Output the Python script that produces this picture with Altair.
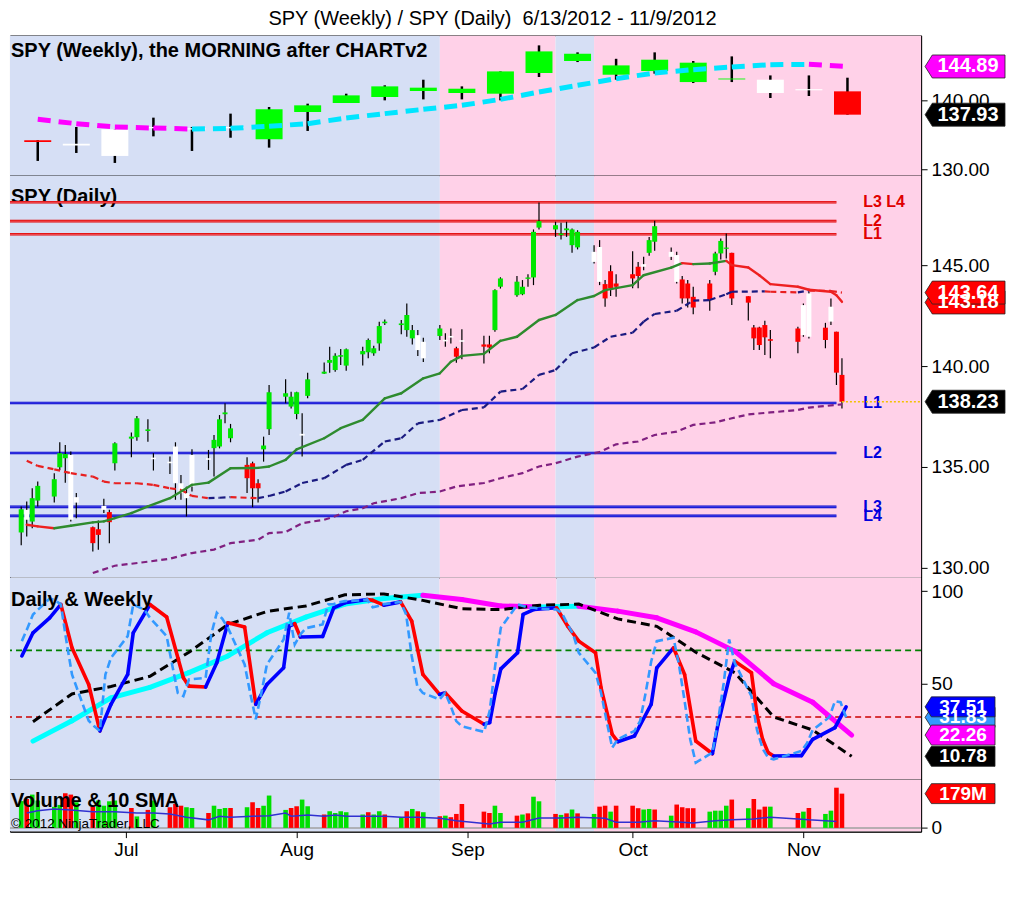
import altair as alt
import pandas as pd

FONT = "Liberation Sans"
BASE = pd.Timestamp("2012-06-12")


def day(s):
    return (pd.Timestamp(s) - BASE).days


def days(seq):
    return [day(s) for s in seq]


# ------------------------------------------------------------------ data
daily_dates = [
    "2012-06-12", "2012-06-13", "2012-06-14", "2012-06-15",
    "2012-06-18", "2012-06-19", "2012-06-20", "2012-06-21", "2012-06-22",
    "2012-06-25", "2012-06-26", "2012-06-27", "2012-06-28", "2012-06-29",
    "2012-07-02", "2012-07-03", "2012-07-05", "2012-07-06",
    "2012-07-09", "2012-07-10", "2012-07-11", "2012-07-12", "2012-07-13",
    "2012-07-16", "2012-07-17", "2012-07-18", "2012-07-19", "2012-07-20",
    "2012-07-23", "2012-07-24", "2012-07-25", "2012-07-26", "2012-07-27",
    "2012-07-30", "2012-07-31",
    "2012-08-01", "2012-08-02", "2012-08-03",
    "2012-08-06", "2012-08-07", "2012-08-08", "2012-08-09", "2012-08-10",
    "2012-08-13", "2012-08-14", "2012-08-15", "2012-08-16", "2012-08-17",
    "2012-08-20", "2012-08-21", "2012-08-22", "2012-08-23", "2012-08-24",
    "2012-08-27", "2012-08-28", "2012-08-29", "2012-08-30", "2012-08-31",
    "2012-09-04", "2012-09-05", "2012-09-06", "2012-09-07",
    "2012-09-10", "2012-09-11", "2012-09-12", "2012-09-13", "2012-09-14",
    "2012-09-17", "2012-09-18", "2012-09-19", "2012-09-20", "2012-09-21",
    "2012-09-24", "2012-09-25", "2012-09-26", "2012-09-27", "2012-09-28",
    "2012-10-01", "2012-10-02", "2012-10-03", "2012-10-04", "2012-10-05",
    "2012-10-08", "2012-10-09", "2012-10-10", "2012-10-11", "2012-10-12",
    "2012-10-15", "2012-10-16", "2012-10-17", "2012-10-18", "2012-10-19",
    "2012-10-22", "2012-10-23", "2012-10-24", "2012-10-25", "2012-10-26",
    "2012-10-31", "2012-11-01", "2012-11-02",
    "2012-11-05", "2012-11-06", "2012-11-07", "2012-11-08",
]
daily_kind = (
    "G W G G G G G W W R R W R G "
    "G G G W W W W W W W G G G G R R R G G G G "
    "G W G G G G G G G G G G G G G G W W G W W R W "
    "R R G G G G G G G G G G G G W W R R R "
    "R R W G G W W R R R R G G G R R R R R R R "
    "W W R W R R"
).split()
daily_top = [
    132.90, 132.87, 133.45, 134.06, 134.39, 135.68, 135.64, 135.59, 133.50, 132.01, 131.91, 133.07, 132.76, 136.17,
    136.50, 137.41, 136.86, 135.46, 135.26, 136.01, 134.19, 133.70, 135.59, 135.43, 136.34, 137.36, 137.70, 136.91,
    135.10, 135.18, 134.19, 136.06, 138.70, 138.65, 138.48,
    138.70, 136.64, 139.34, 139.72, 140.30, 140.51, 140.54, 140.83, 140.74, 141.29, 140.88, 141.98, 142.20, 142.11,
    142.53, 141.78, 141.53, 141.20, 141.86, 141.30, 141.49, 140.88, 141.28,
    141.07, 141.07, 143.76, 144.34, 144.18, 143.93, 144.39, 146.65, 147.18, 146.98, 146.57, 146.82, 146.77, 146.65,
    145.66, 145.90, 144.06, 144.70, 144.09,
    144.55, 144.92, 145.05, 146.24, 146.93, 145.66, 145.50, 144.29, 144.09, 143.43, 144.09, 145.58, 146.20, 145.87,
    145.61, 143.46, 141.91, 141.91, 142.03, 141.33, 141.86,
    143.02, 143.60, 141.90, 142.94, 141.70, 139.56,
]
daily_bottom = [
    131.75, 132.38, 132.29, 133.33, 133.53, 134.98, 135.43, 132.38, 133.23, 131.22, 131.63, 132.87, 132.26, 135.18,
    136.40, 136.47, 136.78, 135.38, 135.18, 134.19, 133.70, 133.45, 134.03, 135.35, 135.93, 136.01, 137.61, 136.42,
    134.44, 133.94, 133.94, 135.87, 136.87, 138.48, 137.99,
    137.62, 136.55, 138.52, 139.62, 140.16, 139.80, 140.46, 140.02, 140.58, 140.68, 140.63, 141.12, 142.12, 142.03,
    141.78, 141.37, 140.79, 140.38, 141.49, 141.22, 141.41, 140.46, 141.20,
    140.96, 140.92, 141.78, 143.93, 143.51, 143.56, 144.32, 144.39, 146.86, 146.77, 146.49, 146.73, 145.99, 145.88,
    145.16, 144.17, 143.35, 143.85, 143.93,
    144.34, 144.46, 144.92, 145.61, 146.16, 145.41, 144.17, 143.35, 143.35, 142.90, 143.27, 144.67, 145.58, 145.81,
    143.35, 143.14, 141.37, 141.04, 141.42, 141.25, 141.20,
    141.53, 141.45, 141.29, 142.20, 139.67, 138.23,
]
daily_high = [
    133.04, 133.28, 133.94, 134.27, 134.69, 136.22, 136.09, 135.76, 133.70, 132.05, 132.34, 133.42, 132.87, 136.22,
    136.70, 137.52, 137.36, 135.68, 135.51, 136.22, 134.60, 134.02, 135.87, 135.84, 136.58, 137.57, 138.15, 137.13,
    135.48, 135.26, 134.39, 136.50, 139.06, 139.34, 138.73,
    138.73, 137.66, 139.67, 140.17, 140.96, 140.63, 140.84, 140.87, 140.96, 141.37, 141.01, 142.19, 142.31, 142.28,
    143.10, 142.03, 141.78, 141.40, 142.03, 141.62, 141.86, 140.96, 141.82,
    141.50, 141.50, 143.81, 144.40, 144.46, 144.26, 144.55, 146.77, 148.10, 147.15, 147.10, 147.15, 146.82, 146.73,
    145.99, 146.24, 144.26, 145.00, 144.55,
    145.69, 145.16, 145.41, 146.40, 147.20, 145.87, 145.66, 144.46, 144.26, 143.93, 144.26, 145.66, 146.32, 146.57,
    145.61, 143.46, 142.03, 141.95, 142.24, 141.78, 141.95,
    143.10, 143.68, 142.14, 143.35, 141.70, 140.38,
]
daily_low = [
    131.11, 131.55, 131.96, 133.04, 133.24, 134.85, 134.22, 132.29, 132.46, 130.81, 130.89, 132.71, 131.22, 134.82,
    135.48, 136.30, 136.25, 134.82, 134.65, 133.37, 133.37, 132.54, 133.78, 134.85, 134.52, 135.92, 137.16, 136.22,
    133.70, 133.00, 133.24, 135.26, 136.58, 138.15, 137.90,
    137.36, 135.51, 138.40, 139.60, 139.67, 139.72, 140.05, 139.77, 140.02, 140.38, 140.51, 140.76, 142.03, 141.58,
    141.45, 141.07, 140.50, 140.20, 141.29, 140.96, 141.12, 140.16, 140.33,
    140.13, 140.63, 141.70, 143.84, 143.43, 143.51, 143.93, 144.01, 146.77, 146.40, 146.27, 146.40, 145.61, 145.78,
    145.08, 144.01, 142.94, 143.47, 143.43,
    143.85, 143.85, 144.75, 145.46, 145.71, 145.25, 144.09, 143.10, 142.90, 142.57, 142.74, 144.50, 145.28, 145.33,
    143.02, 142.25, 140.80, 140.79, 140.54, 140.38, 140.63,
    141.45, 141.37, 140.88, 142.03, 139.06, 137.90,
]
daily_volume_m = [
    140, 151, 174, 143, 110, 120, 181, 174, 134, 110, 143, 116, 139, 143,
    104, 60, 94, 143, 108, 125, 116, 108, 104, 78, 116, 99, 104, 104, 108, 134, 104, 116, 169, 94, 104,
    113, 148, 113, 70, 87, 78, 87, 82, 70, 82, 70, 87, 70, 56, 87, 99, 87, 82, 61, 64, 56, 73, 125,
    85, 78, 116, 78, 64, 70, 76, 163, 139, 73, 68, 76, 96, 76, 73, 111, 116, 85, 116,
    116, 103, 96, 99, 96, 64, 122, 108, 103, 103, 85, 90, 90, 116, 148, 103, 151, 96, 111, 111, 78,
    85, 104, 73, 90, 210, 179,
]
volume_kind = (
    "G R G G G G R R G R G G G G "
    "R G R G R R R G G R G G G R G R R G G G R "
    "R G G R G G G G G R G G R G R G R G R G R R R "
    "R R G G R G R G G R G R G R G R R G R "
    "R R G G R G R R R R G G G G R G R R R G R "
    "G R G G R R"
).split()

# weekly candles (bars stamped on Fridays)
weekly_dates = [
    "2012-06-15", "2012-06-22", "2012-06-29", "2012-07-06", "2012-07-13", "2012-07-20",
    "2012-07-27", "2012-08-03", "2012-08-10", "2012-08-17", "2012-08-24", "2012-08-31",
    "2012-09-07", "2012-09-14", "2012-09-21", "2012-09-28", "2012-10-05", "2012-10-12",
    "2012-10-19", "2012-10-26", "2012-11-02", "2012-11-09",
]
weekly_kind = "R W W W W W G G G G G G G G G G G G G W W R".split()
weekly_top = [134.22, 133.72, 135.82, 136.16, 135.98, 136.16, 138.70, 139.28, 140.72, 142.02, 141.83,
              141.68, 144.18, 147.07, 146.73, 145.05, 145.87, 145.44, 143.15, 142.98, 141.62, 141.30]
weekly_bottom = [133.98, 133.48, 131.97, 135.96, 135.78, 135.96, 134.37, 138.32, 139.62, 140.48, 141.35,
                 141.06, 140.96, 143.95, 145.68, 143.70, 144.23, 142.64, 143.02, 141.06, 141.45, 137.93]
weekly_high = [134.25, 136.15, 135.82, 137.50, 136.15, 138.08, 139.04, 139.52, 140.96, 142.17, 142.98,
               142.02, 144.18, 147.94, 146.93, 146.00, 146.93, 145.68, 146.35, 143.60, 143.60, 143.27]
weekly_low = [131.25, 132.40, 130.96, 134.80, 132.69, 134.60, 133.17, 135.58, 139.62, 140.00, 140.14,
              140.14, 140.00, 143.37, 145.53, 142.98, 143.85, 142.50, 142.64, 140.34, 140.63, 137.93]
weekly_ma = [137.26, 136.63, 136.15, 136.00, 135.86, 135.96, 136.25, 136.63, 137.45, 138.08, 138.70,
             139.28, 140.14, 141.20, 142.17, 143.13, 143.95, 144.43, 144.81, 145.15, 145.20, 144.89]

# daily moving averages
fast_ma_dates = [
    "2012-06-13", "2012-06-15", "2012-06-18", "2012-06-21", "2012-06-25", "2012-06-27", "2012-06-29",
    "2012-07-02", "2012-07-05", "2012-07-09", "2012-07-12", "2012-07-13", "2012-07-16", "2012-07-20",
    "2012-07-25", "2012-07-27", "2012-07-30", "2012-08-01", "2012-08-06", "2012-08-09", "2012-08-13",
    "2012-08-17", "2012-08-20", "2012-08-24", "2012-08-27", "2012-08-29", "2012-08-31", "2012-09-04",
    "2012-09-07", "2012-09-10", "2012-09-14", "2012-09-17", "2012-09-21", "2012-09-24", "2012-09-26",
    "2012-10-01", "2012-10-03", "2012-10-08", "2012-10-10", "2012-10-12", "2012-10-15", "2012-10-18",
    "2012-10-19", "2012-10-22", "2012-10-24", "2012-10-26", "2012-10-31", "2012-11-02", "2012-11-06",
    "2012-11-07", "2012-11-08",
]
fast_ma_values = [
    132.13, 132.05, 131.96, 132.08, 132.25, 132.30, 132.46, 132.71, 133.04, 133.45, 133.94, 134.11, 134.22,
    134.93, 134.95, 135.02, 135.35, 135.87, 136.42, 136.92, 137.33, 138.40, 138.65, 139.39, 139.64, 140.21,
    140.50, 140.60, 141.25, 141.45, 142.28, 142.53, 143.27, 143.47, 143.76, 144.01, 144.50, 144.88, 145.10,
    145.05, 145.08, 145.21, 145.00, 144.88, 144.50, 144.06, 143.93, 143.78, 143.68, 143.51, 143.18,
]
mid_ma_dates = [
    "2012-06-13", "2012-06-15", "2012-06-18", "2012-06-21", "2012-06-25", "2012-06-27", "2012-06-29",
    "2012-07-03", "2012-07-06", "2012-07-09", "2012-07-11", "2012-07-13", "2012-07-16", "2012-07-18",
    "2012-07-20", "2012-07-25", "2012-07-27", "2012-07-30", "2012-08-02", "2012-08-06", "2012-08-10",
    "2012-08-13", "2012-08-17", "2012-08-20", "2012-08-23", "2012-08-27", "2012-08-31", "2012-09-04",
    "2012-09-07", "2012-09-11", "2012-09-14", "2012-09-17", "2012-09-20", "2012-09-24", "2012-09-27",
    "2012-10-01", "2012-10-03", "2012-10-05", "2012-10-09", "2012-10-12", "2012-10-15", "2012-10-18",
    "2012-10-19", "2012-10-25", "2012-10-26", "2012-10-31", "2012-11-02", "2012-11-06", "2012-11-08",
]
mid_ma_values = [
    135.30, 135.05, 134.88, 134.69, 134.52, 134.27, 134.19, 134.19, 134.11, 133.94, 133.86, 133.56, 133.45,
    133.47, 133.50, 133.45, 133.56, 133.78, 134.20, 134.44, 135.10, 135.35, 136.26, 136.42, 137.16, 137.33,
    137.82, 137.95, 138.73, 138.86, 139.56, 139.80, 140.63, 140.92, 141.45, 141.65, 142.20, 142.58, 142.74,
    143.24, 143.27, 143.56, 143.68, 143.70, 143.68, 143.65, 143.74, 143.72, 143.64,
]
slow_ma_dates = [
    "2012-06-25", "2012-06-29", "2012-07-05", "2012-07-09", "2012-07-13", "2012-07-17", "2012-07-20",
    "2012-07-25", "2012-07-27", "2012-07-30", "2012-08-02", "2012-08-06", "2012-08-08", "2012-08-10",
    "2012-08-13", "2012-08-15", "2012-08-20", "2012-08-23", "2012-08-27", "2012-08-30", "2012-09-04",
    "2012-09-07", "2012-09-11", "2012-09-14", "2012-09-17", "2012-09-21", "2012-09-25", "2012-09-28",
    "2012-10-02", "2012-10-05", "2012-10-09", "2012-10-12", "2012-10-16", "2012-10-19", "2012-10-22",
    "2012-10-26", "2012-10-31", "2012-11-02", "2012-11-08",
]
slow_ma_values = [
    129.74, 130.10, 130.30, 130.45, 130.73, 130.90, 131.22, 131.39, 131.72, 131.77, 132.21, 132.38, 132.55,
    132.80, 132.95, 133.20, 133.45, 133.70, 133.78, 134.03, 134.20, 134.44, 134.69, 135.02, 135.18, 135.51,
    135.73, 136.12, 136.26, 136.58, 136.75, 137.08, 137.21, 137.41, 137.60, 137.70, 137.82, 137.94, 138.10,
]

# support / resistance levels
level_values = [148.12, 147.18, 146.53, 138.17, 135.69, 133.02, 132.57]
level_names = ["L3 L4", "L2", "L1", "L1", "L2", "L3", "L4"]
level_side = ["res", "res", "res", "sup", "sup", "sup", "sup"]
level_first_date = "2012-06-01"
level_last_date = "2012-11-07"
last_close = 138.23
last_close_date = "2012-11-08"

# stochastics
k_dates = [
    "2012-06-13", "2012-06-15", "2012-06-18", "2012-06-20", "2012-06-22", "2012-06-25", "2012-06-27",
    "2012-06-29", "2012-07-02", "2012-07-03", "2012-07-06", "2012-07-09", "2012-07-12", "2012-07-13",
    "2012-07-16", "2012-07-18", "2012-07-20", "2012-07-23", "2012-07-25", "2012-07-27", "2012-07-30",
    "2012-07-31", "2012-08-01", "2012-08-02", "2012-08-06", "2012-08-08", "2012-08-10", "2012-08-14",
    "2012-08-15", "2012-08-17", "2012-08-20", "2012-08-22", "2012-08-24", "2012-08-27", "2012-08-28",
    "2012-08-31", "2012-09-04", "2012-09-05", "2012-09-06", "2012-09-07", "2012-09-10", "2012-09-11",
    "2012-09-13", "2012-09-17", "2012-09-19", "2012-09-21", "2012-09-24", "2012-09-25", "2012-09-27",
    "2012-09-28", "2012-10-01", "2012-10-04", "2012-10-05", "2012-10-08", "2012-10-10", "2012-10-12",
    "2012-10-15", "2012-10-16", "2012-10-18", "2012-10-19", "2012-10-22", "2012-10-23", "2012-10-24",
    "2012-10-25", "2012-10-26", "2012-10-31", "2012-11-02", "2012-11-06", "2012-11-08",
]
k_values = [
    65, 77.5, 85.6, 92.8, 69.4, 49.6, 24.5, 38.9, 55, 77.5, 92.8, 86, 53.2, 48.7, 48.2, 61.3, 82.9, 80.6,
    38.9, 49.6, 58.6, 81.1, 82.4, 75.2, 75.5, 91, 93.7, 95.5, 95, 92.4, 94.2, 83.8, 55, 44.2, 45.1, 35.3,
    28.1, 29, 45, 58, 66.7, 87.4, 90.1, 91, 81.1, 73, 66.7, 47.8, 22.7, 18.7, 21.8, 38.9, 58.6, 69.4, 55,
    19.1, 12.2, 28.1, 53.2, 62.2, 55.9, 33, 20, 12.8, 11, 11.2, 20, 26.3, 37.51,
]
fast_k_values = [  # one value per daily bar from 2012-06-13
    73, 80, 87.4, 96, 95, 92.8, 73, 55, 30, 27, 24.5, 55, 64,
    75.7, 92.8, 90, 85.6, 75.7, 60, 45, 43.3, 52.3, 53.2, 76.6, 88.3, 85, 80.2, 60.4, 45, 30.8, 45, 60.4,
    73.9, 88.3,
    71.2, 76.6, 80, 82, 92.8, 93, 94, 94.6, 95, 95.5, 91.3, 92, 93, 94.2, 87.4, 65, 48.7, 45, 41.5, 45.1,
    38, 29.8, 27,
    24, 35.3, 60, 80.2, 92.8, 92, 91, 91, 90.5, 90.1, 88, 82, 76.6, 66.7, 55.9, 45, 29.8, 15.5, 20,
    24.5, 29.8, 45, 62, 73, 74.8, 60, 40.6, 20, 7.4, 12.8, 30, 50, 73.9, 61.3, 43.3, 25, 15, 10, 9.2, 13.7,
    18, 25, 32, 40.6, 40, 31.83,
]
weekly_k_values = [19, 30, 42.4, 48, 56, 65, 77.5, 86, 93, 96, 97.8, 95.5, 92, 91.5, 91.8, 89.2, 85.6,
                   78, 67.6, 50, 40, 22.26]
weekly_d_values = [29.5, 44.5, 48.5, 54, 67, 82, 89, 92, 98, 98.5, 95, 90.5, 90, 92.4, 93, 85, 81, 67,
                   56, 32, 25, 10.78]
stoch_levels = [68, 32]
stoch_level_kind = ["upper", "lower"]

# volume moving average (as drawn)
vol_ma_dates = [
    "2012-06-13", "2012-06-15", "2012-06-18", "2012-06-21", "2012-06-25", "2012-06-27", "2012-06-29",
    "2012-07-03", "2012-07-06", "2012-07-09", "2012-07-12", "2012-07-16", "2012-07-18", "2012-07-20",
    "2012-07-24", "2012-07-27", "2012-07-30", "2012-07-31", "2012-08-03", "2012-08-06", "2012-08-08",
    "2012-08-10", "2012-08-14", "2012-08-17", "2012-08-20", "2012-08-23", "2012-08-27", "2012-08-30",
    "2012-09-05", "2012-09-07", "2012-09-11", "2012-09-14", "2012-09-18", "2012-09-21", "2012-09-26",
    "2012-09-28", "2012-10-02", "2012-10-05", "2012-10-10", "2012-10-12", "2012-10-16", "2012-10-19",
    "2012-10-23", "2012-10-26", "2012-10-31", "2012-11-02", "2012-11-05", "2012-11-07",
]
vol_ma_values = [
    78, 90, 99, 94, 85, 85, 85, 78, 78, 73, 56, 42, 61, 56, 61, 64, 78, 61, 68, 61, 68, 61, 61, 61, 56, 56,
    50, 38, 21, 30, 30, 52, 52, 56, 50, 30, 30, 38, 30, 26, 38, 43, 47, 56, 47, 42, 38, 33,
]

# background regime shading
shade_start = ["2012-06-01", "2012-08-27", "2012-09-17", "2012-09-24"]
shade_end = ["2012-08-27", "2012-09-17", "2012-09-24", "2012-12-01"]
shade_kind = ["blue", "pink", "blue", "pink"]

month_starts = ["2012-07-01", "2012-08-01", "2012-09-01", "2012-10-01", "2012-11-01"]
month_names = ["Jul", "Aug", "Sep", "Oct", "Nov"]

# last-value tags
tag1_values, tag1_text, tag1_kind = [144.89, 137.93], ["144.89", "137.93"], ["magenta", "black"]
tag2_values, tag2_text, tag2_kind = [143.15, 143.64, 138.23], ["143.18", "143.64", "138.23"], ["red", "red", "black"]
tag3_values = [31.83, 37.51, 22.26, 10.78]
tag3_text = ["31.83", "37.51", "22.26", "10.78"]
tag3_kind = ["lightblue", "blue", "magenta", "black"]
tag4_values, tag4_text, tag4_kind = [179], ["179M"], ["red"]

n = len(daily_dates)
for arr in (daily_kind, daily_top, daily_bottom, daily_high, daily_low, daily_volume_m, volume_kind):
    assert len(arr) == n, (len(arr), n)
assert len(fast_k_values) == n - 1
assert len(fast_ma_dates) == len(fast_ma_values)
assert len(mid_ma_dates) == len(mid_ma_values)
assert len(slow_ma_dates) == len(slow_ma_values)
assert len(k_dates) == len(k_values)
assert len(vol_ma_dates) == len(vol_ma_values)

# ------------------------------------------------------------------ layout / style
W = 912
H1, H2, H3, H4 = 140, 403, 202, 52
xscale = alt.Scale(domain=[-1.13, 162.46], nice=False, zero=False)
BLUE_BG, PINK_BG = "#D6DFF5", "#FFD1E8"
TAG_DOM = ["black", "red", "magenta", "blue", "lightblue"]
TAG_RNG = ["#000000", "#FF0000", "#FF00FF", "#0000FF", "#3399FF"]


def yaxis(values, fmt):
    return alt.Axis(orient="right", values=values, format=fmt, title=None, grid=False, tickSize=6,
                    tickColor="black", domainColor="black", labelColor="black", labelFontSize=19,
                    labelFont=FONT, labelPadding=4, labelOverlap=False, labelFlush=False)


month_days = days(month_starts)
expr = "''"
for v, nm in reversed(list(zip(month_days, month_names))):
    expr = f"datum.value == {v} ? '{nm}' : ({expr})"
xaxis_bottom = alt.Axis(values=month_days, labelExpr=expr, title=None, grid=False, tickSize=6,
                        tickColor="black", domainColor="black", labelColor="black", labelFontSize=19,
                        labelFont=FONT, labelPadding=3, labelFlush=False, labelOverlap=False)


def shade(h, xax):
    df = pd.DataFrame({"s": days(shade_start), "e": days(shade_end), "k": shade_kind})
    return alt.Chart(df).mark_rect(clip=True).encode(
        x=alt.X("s:Q", scale=xscale, axis=xax), x2="e:Q",
        y=alt.value(0), y2=alt.value(h),
        color=alt.Color("k:N", scale=alt.Scale(domain=["blue", "pink"], range=[BLUE_BG, PINK_BG]), legend=None),
    )


def candles(dates, kinds, top, bot, hi, lo, width, wick_w, ysc, yax, colors, xax):
    df = pd.DataFrame(dict(d=days(dates), k=kinds, t=top, b=bot, h=hi, l=lo))
    base = alt.Chart(df)
    wick = base.mark_rule(color="black", strokeWidth=wick_w).encode(
        x=alt.X("d:Q", scale=xscale, axis=xax),
        y=alt.Y("h:Q", scale=ysc, axis=yax), y2="l:Q")
    body = base.mark_bar(size=width).encode(
        x=alt.X("d:Q", scale=xscale, axis=xax),
        y=alt.Y("t:Q", scale=ysc, axis=yax), y2="b:Q",
        color=alt.Color("k:N", scale=alt.Scale(domain=["G", "R", "W"], range=colors), legend=None))
    return wick + body


def slope_segments(dates, vals, up_c, down_c, width, dash, ysc, yax, xax):
    xs = days(dates)
    df = pd.DataFrame({"x": xs[:-1], "x2": xs[1:], "y": vals[:-1], "y2": vals[1:]})
    df["dir"] = ["up" if b > a else "down" for a, b in zip(vals[:-1], vals[1:])]
    mk = dict(strokeWidth=width, strokeCap="round")
    if dash:
        mk = dict(strokeWidth=width, strokeCap="butt", strokeDash=dash)
    return alt.Chart(df).mark_rule(**mk).encode(
        x=alt.X("x:Q", scale=xscale, axis=xax), x2="x2:Q",
        y=alt.Y("y:Q", scale=ysc, axis=yax), y2="y2:Q",
        color=alt.Color("dir:N", scale=alt.Scale(domain=["up", "down"], range=[up_c, down_c]), legend=None))


def plain_line(dates, vals, color, width, dash, ysc, yax, xax):
    df = pd.DataFrame({"x": days(dates), "y": vals})
    mk = dict(color=color, strokeWidth=width)
    if dash:
        mk["strokeDash"] = dash
    return alt.Chart(df).mark_line(**mk).encode(
        x=alt.X("x:Q", scale=xscale, axis=xax), y=alt.Y("y:Q", scale=ysc, axis=yax))


def panel_text(txt, y, size=20, weight="bold"):
    return alt.Chart(pd.DataFrame({"t": [txt]})).mark_text(
        align="left", baseline="middle", fontSize=size, fontWeight=weight, font=FONT, color="black"
    ).encode(x=alt.value(1), y=alt.value(y), text="t:N")


def tags(vals, texts, kinds, ysc, yax, boxw, boxh, fsize):
    hy = round(boxh / boxw, 4)
    path = f"M-1,0L-0.82,{-hy}L1,{-hy}L1,{hy}L-0.82,{hy}Z"
    cx = W + 4 + boxw / 2
    df = pd.DataFrame({"v": vals, "t": texts, "k": kinds})
    base = alt.Chart(df)
    box = base.mark_point(shape=path, size=boxw * boxw, filled=True, opacity=1,
                          stroke="#222222", strokeWidth=0.8).encode(
        x=alt.value(cx), y=alt.Y("v:Q", scale=ysc, axis=yax),
        fill=alt.Fill("k:N", scale=alt.Scale(domain=TAG_DOM, range=TAG_RNG), legend=None))
    txt = base.mark_text(font=FONT, fontSize=fsize, fontWeight="bold", color="white",
                         align="center", baseline="middle").encode(
        x=alt.value(cx + 3), y=alt.Y("v:Q", scale=ysc, axis=yax), text="t:N")
    return box + txt


# ------------------------------------------------------------------ panel 1: weekly
y1 = alt.Scale(domain=[129.18, 149.38], nice=False, zero=False)
ax1 = yaxis([130, 140], ".2f")
p1 = alt.layer(
    shade(H1, None),
    candles(weekly_dates, weekly_kind, weekly_top, weekly_bottom, weekly_high, weekly_low,
            27, 2.5, y1, ax1, ["#00FF00", "#FF0000", "#FFFFFF"], None),
    slope_segments(weekly_dates, weekly_ma, "#00E5FF", "#FF00FF", 5, [13, 8], y1, ax1, None),
    panel_text("SPY (Weekly), the MORNING after CHARTv2", 16),
    tags(tag1_values, tag1_text, tag1_kind, y1, ax1, 80, 23, 20),
).resolve_scale(color="independent", fill="independent").properties(width=W, height=H1)

# ------------------------------------------------------------------ panel 2: daily
y2 = alt.Scale(domain=[129.50, 149.455], nice=False, zero=False)
ax2 = yaxis([130, 135, 140, 145], ".2f")
lvl_df = pd.DataFrame({"v": level_values, "n": level_names, "k": level_side,
                       "s": day(level_first_date), "e": day(level_last_date)})
lvl_outer = alt.Chart(lvl_df).mark_rule(strokeWidth=2.6, clip=True).encode(
    x=alt.X("s:Q", scale=xscale, axis=None), x2="e:Q", y=alt.Y("v:Q", scale=y2, axis=ax2),
    color=alt.Color("k:N", scale=alt.Scale(domain=["res", "sup"], range=["#E00000", "#0000CC"]), legend=None))
lvl_inner = alt.Chart(lvl_df).mark_rule(strokeWidth=0.6, clip=True).encode(
    x=alt.X("s:Q", scale=xscale, axis=None), x2="e:Q", y=alt.Y("v:Q", scale=y2, axis=ax2),
    color=alt.Color("k:N", scale=alt.Scale(domain=["res", "sup"], range=["#FF9AAA", "#8C8CFF"]), legend=None))
lvl_text = alt.Chart(lvl_df).mark_text(align="left", baseline="middle", fontSize=16, fontWeight="bold",
                                       font=FONT).encode(
    x=alt.value(854), y=alt.Y("v:Q", scale=y2, axis=ax2), text="n:N",
    color=alt.Color("k:N", scale=alt.Scale(domain=["res", "sup"], range=["#E00000", "#0000DD"]), legend=None))
close_line = alt.Chart(pd.DataFrame({"v": [last_close], "d": [day(last_close_date)]})).mark_rule(
    color="#F2C200", strokeWidth=1.5, strokeDash=[2, 2]).encode(
    x=alt.X("d:Q", scale=xscale, axis=None), x2=alt.value(W), y=alt.Y("v:Q", scale=y2, axis=ax2))

p2 = alt.layer(
    shade(H2, None),
    panel_text("SPY (Daily)", 22),
    lvl_outer, lvl_inner,
    candles(daily_dates, daily_kind, daily_top, daily_bottom, daily_high, daily_low,
            5, 1.2, y2, ax2, ["#00E600", "#FF0000", "#FFFFFF"], None),
    plain_line(slow_ma_dates, slow_ma_values, "#802080", 2.2, [6, 4], y2, ax2, None),
    slope_segments(mid_ma_dates, mid_ma_values, "#1A1A80", "#E82020", 2.2, [6, 4], y2, ax2, None),
    slope_segments(fast_ma_dates, fast_ma_values, "#2E8B2E", "#EE2020", 2.4, None, y2, ax2, None),
    lvl_text, close_line,
    tags(tag2_values, tag2_text, tag2_kind, y2, ax2, 80, 23, 20),
).resolve_scale(color="independent", fill="independent").properties(width=W, height=H2)

# ------------------------------------------------------------------ panel 3: stochastics
y3 = alt.Scale(domain=[-1.8, 107.17], nice=False, zero=False)
ax3 = yaxis([50, 100], "d")
lev3 = alt.Chart(pd.DataFrame({"v": stoch_levels, "k": stoch_level_kind})).mark_rule(
    strokeWidth=1.6, strokeDash=[6, 4]).encode(
    y=alt.Y("v:Q", scale=y3, axis=ax3),
    color=alt.Color("k:N", scale=alt.Scale(domain=["upper", "lower"], range=["#008000", "#CC0000"]), legend=None))
p3 = alt.layer(
    shade(H3, None),
    lev3,
    slope_segments(weekly_dates, weekly_k_values, "#00FFFF", "#FF00FF", 5, None, y3, ax3, None),
    plain_line(weekly_dates, weekly_d_values, "#000000", 3, [9, 5], y3, ax3, None),
    slope_segments(k_dates, k_values, "#0000FF", "#FF0000", 3.6, None, y3, ax3, None),
    plain_line(daily_dates[1:], fast_k_values, "#3399FF", 2.6, [8, 4], y3, ax3, None),
    panel_text("Daily & Weekly", 22),
    tags(tag3_values, tag3_text, tag3_kind, y3, ax3, 70, 20, 19),
).resolve_scale(color="independent", fill="independent").properties(width=W, height=H3)

# ------------------------------------------------------------------ panel 4: volume
y4 = alt.Scale(domain=[-19.3, 252], nice=False, zero=False)
ax4 = yaxis([0], "d")
vol_df = pd.DataFrame({"d": days(daily_dates), "v": daily_volume_m, "k": volume_kind})
vol_bars = alt.Chart(vol_df).mark_bar(size=4.6).encode(
    x=alt.X("d:Q", scale=xscale, axis=xaxis_bottom),
    y=alt.Y("v:Q", scale=y4, axis=ax4), y2=alt.datum(0),
    color=alt.Color("k:N", scale=alt.Scale(domain=["G", "R"], range=["#00E000", "#FF0000"]), legend=None))
zero_line = alt.Chart(pd.DataFrame({"v": [0]})).mark_rule(color="#A0A0A0", strokeWidth=1.5).encode(
    y=alt.Y("v:Q", scale=y4, axis=ax4))
p4 = alt.layer(
    shade(H4, xaxis_bottom),
    zero_line,
    vol_bars,
    plain_line(vol_ma_dates, vol_ma_values, "#3030D0", 1.5, None, y4, ax4, xaxis_bottom),
    panel_text("Volume & 10 SMA", 21),
    panel_text("\u00a9 2012 NinjaTrader, LLC", 44, size=13.5, weight="normal"),
    tags(tag4_values, tag4_text, tag4_kind, y4, ax4, 70, 20, 19),
).resolve_scale(color="independent", fill="independent").properties(width=W, height=H4)

chart = alt.vconcat(p1, p2, p3, p4, spacing=0, bounds="flush").properties(
    title=alt.TitleParams(text="SPY (Weekly) / SPY (Daily)\u00a0 6/13/2012 - 11/9/2012", anchor="start",
                          dx=260, fontSize=20, fontWeight="normal", font=FONT, color="black", offset=6),
    padding=0,
).configure(font=FONT, background="white").configure_view(stroke="black", strokeWidth=1)

chart.save("out.html", embed_options={"renderer": "svg", "actions": False})
